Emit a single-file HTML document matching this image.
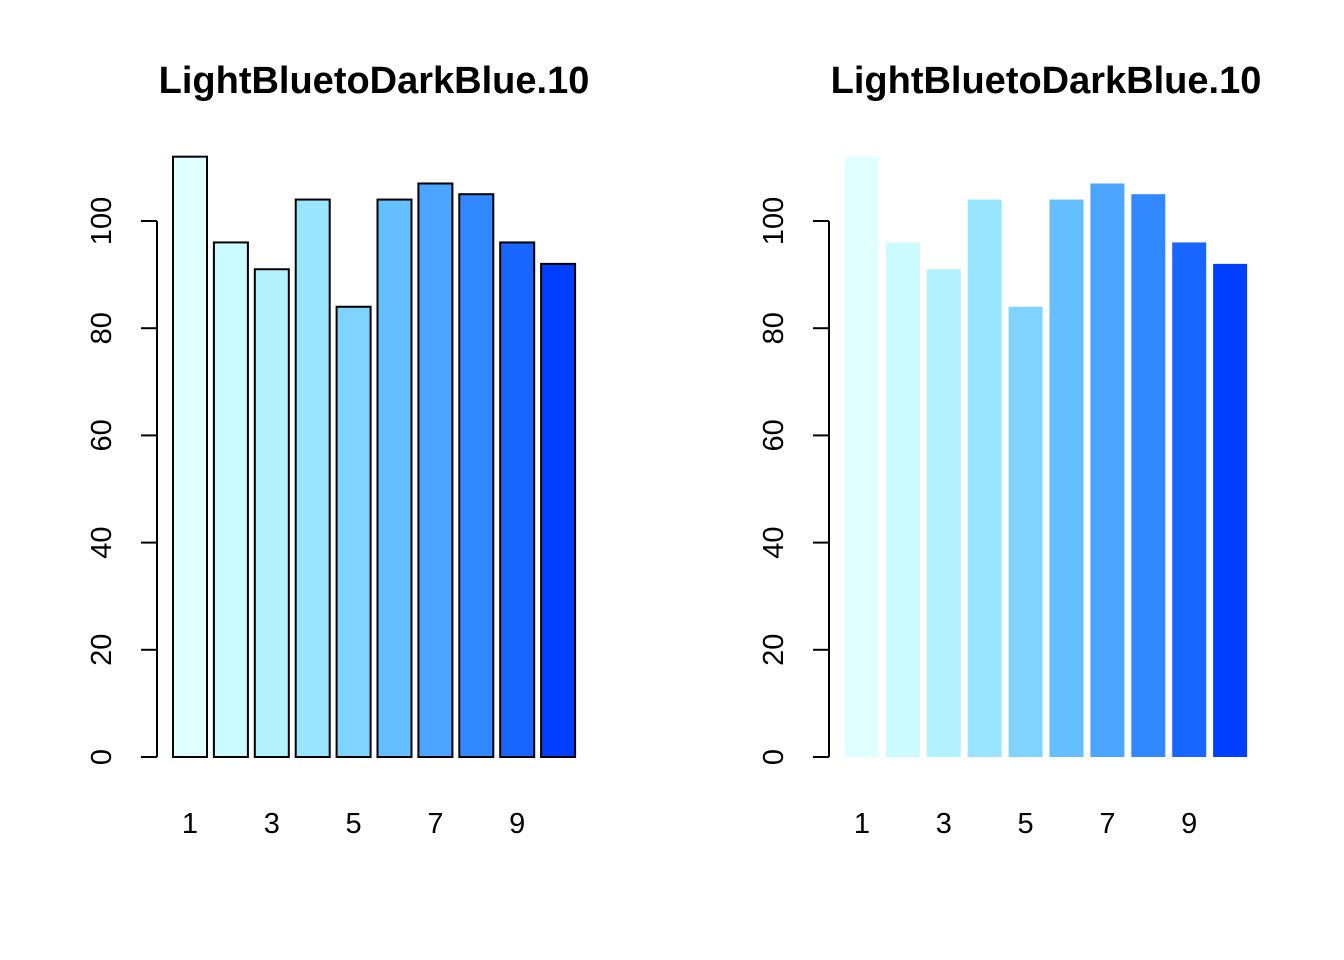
<!DOCTYPE html>
<html><head><meta charset="utf-8">
<style>
html,body{margin:0;padding:0;background:#fff;width:1344px;height:960px;overflow:hidden}
svg{display:block}
text{font-family:"Liberation Sans",sans-serif;fill:#000}
</style></head>
<body>
<svg id="chart" width="1344" height="960" xmlns="http://www.w3.org/2000/svg"></svg>
<script>
const categories = [1,2,3,4,5,6,7,8,9,10];
const values = [112,96,91,104,84,104,107,105,96,92];
const colors = ["#E0FFFF","#CCFBFF","#B2F2FF","#99E5FF","#7FD4FF","#65BFFF","#4CA5FF","#3288FF","#1965FF","#003FFF"];
const yTicks = [0,20,40,60,80,100];
const xLabels = ["1","3","5","7","9"];
const title = "LightBluetoDarkBlue.10";

const NS = "http://www.w3.org/2000/svg";
const svg = document.getElementById("chart");
function mk(tag, attrs, parent){
  const e = document.createElementNS(NS, tag);
  for (const k in attrs) e.setAttribute(k, attrs[k]);
  (parent||svg).appendChild(e);
  return e;
}
const y0 = 757, pxPerUnit = (757-221)/100;
function yScale(v){ return y0 - v*pxPerUnit; }
const barStep = 40.9, barW = 34;

function panel(offset, outlined, idx){
  const g = mk("g", {});
  
  
  function xLeft(i){ return offset + 173 + i*barStep; }
  const t = mk("text", {x: offset+374, y: 93, "text-anchor":"middle", "font-size":"38", "font-weight":"bold"}, g);
  t.textContent = title;
  
  
  categories.forEach((c,i)=>{
    const top = yScale(values[i]);
    const r = mk("rect", {x: xLeft(i), y: top, width: barW, height: y0-top, fill: colors[i],
      stroke: outlined ? "#000" : "none", "stroke-width": 2}, g);
    
    
  });
  const ax = mk("g", {}, g);
  
  
  const ax0 = offset + 157;
  mk("line", {x1: ax0, x2: ax0, y1: yScale(yTicks[0]), y2: yScale(yTicks[yTicks.length-1]), stroke:"#000","stroke-width":2}, ax);
  yTicks.forEach(v=>{
    const y = yScale(v);
    mk("line", {x1: ax0-16, x2: ax0, y1: y, y2: y, stroke:"#000","stroke-width":2}, ax);
    const tl = mk("text", {x: 0, y: 0, "text-anchor":"middle", "font-size":"29",
      transform: `translate(${offset+111},${y}) rotate(-90)`}, ax);
    tl.textContent = v;
    
    
  });
  xLabels.forEach(l=>{
    const i = categories.indexOf(+l);
    const xl = mk("text", {x: xLeft(i)+barW/2, y: 833, "text-anchor":"middle", "font-size":"29"}, g);
    xl.textContent = l;
    
    
  });
}
panel(0, true, 1);
panel(672, false, 2);
</script>
</body></html>
